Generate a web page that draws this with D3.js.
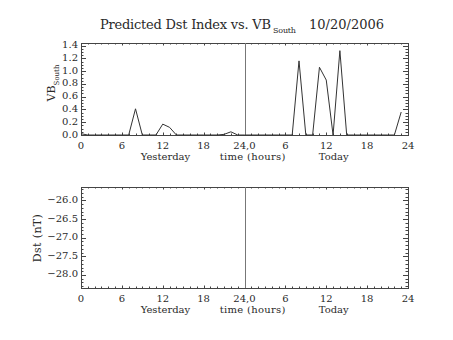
<!DOCTYPE html>
<html><head><meta charset="utf-8">
<script src="https://cdn.jsdelivr.net/npm/d3@7"></script>
<style>
body{margin:0;background:#fff;}
text{font-family:"DejaVu Serif",serif;fill:#2a2a2a;}
</style></head>
<body><svg id="c" width="453" height="340"></svg>
<script>
// ---- data ----
const hours = d3.range(0, 48);           // 0-23 yesterday, 24-47 today
const vbYesterday = [0.02,0,0,0,0,0,0,0,0.41,0,0,0,0.17,0.12,0,0,0,0,0,0,0,0.01,0.05,0];
const vbToday     = [0,0,0,0,0,0,0,0,1.16,0,0,1.06,0.86,0,1.32,0,0,0,0,0,0,0,0,0.36];
const dstValues   = [];                  // no Dst predictions available
const xTickValues = [0,6,12,18,24,30,36,42,48];
const xTickLabels = ["0","6","12","18","24,0","6","12","18","24"];
const vbTicks  = [0,0.2,0.4,0.6,0.8,1.0,1.2,1.4];
const dstTicks = [-28,-27.5,-27,-26.5,-26];
const titleMain = "Predicted Dst Index vs. VB";
const titleSub = "South";
const titleDate = "10/20/2006";

const svg = d3.select("#c");
const axisCol = "#444";
const L = 81, R = 408;
const x = d3.scaleLinear().domain([0,48]).range([L,R]);

function panel(top, bottom, yDomain, majorTicks, minorStep, fmt) {
  const y = d3.scaleLinear().domain(yDomain).range([bottom, top]);
  const g = svg.append("g");
  g.append("rect").attr("x",L).attr("y",top).attr("width",R-L).attr("height",bottom-top)
    .attr("fill","none").attr("stroke",axisCol).attr("stroke-width",1).attr("shape-rendering","crispEdges");
  // x ticks (bottom & top)
  const xMinor = d3.range(0,49,1);
  xMinor.forEach(h=>{
    const major = h%6===0;
    const len = major?2.5:1.5;
    const px = Math.round(x(h))+0.5;
    g.append("line").attr("x1",px).attr("x2",px).attr("y1",bottom).attr("y2",bottom-len).attr("stroke",axisCol);
    g.append("line").attr("x1",px).attr("x2",px).attr("y1",top).attr("y2",top+len).attr("stroke",axisCol);
  });
  // y ticks (left & right)
  const lo = Math.ceil(yDomain[0]/minorStep-1e-6), hi = Math.floor(yDomain[1]/minorStep+1e-6);
  d3.range(lo,hi+1).forEach(i=>{
    const v = i*minorStep;
    const major = majorTicks.some(t=>Math.abs(t-v)<1e-6);
    const len = major?5:2.5;
    const py = Math.round(y(v))+0.5;
    g.append("line").attr("x1",L).attr("x2",L+len).attr("y1",py).attr("y2",py).attr("stroke",axisCol);
    g.append("line").attr("x1",R).attr("x2",R-len).attr("y1",py).attr("y2",py).attr("stroke",axisCol);
  });
  majorTicks.forEach(t=>{
    g.append("text").attr("x",L-3).attr("y",y(t)+2.5).attr("text-anchor","end")
      .attr("font-size",10).text(fmt(t));
  });
  xTickValues.forEach((t,i)=>{
    g.append("text").attr("x",x(t)).attr("y",bottom+14).attr("text-anchor","middle")
      .attr("font-size",10).text(xTickLabels[i]);
  });
  g.append("text").attr("x",x(12.4)).attr("y",bottom+25).attr("text-anchor","middle").attr("font-size",10).text("Yesterday");
  g.append("text").attr("x",x(25.2)).attr("y",bottom+25).attr("text-anchor","middle").attr("font-size",10).attr("letter-spacing",0.3).text("time (hours)");
  g.append("text").attr("x",x(37.1)).attr("y",bottom+25).attr("text-anchor","middle").attr("font-size",10).text("Today");
  // midnight divider
  g.append("line").attr("x1",Math.round(x(24))+0.5).attr("x2",Math.round(x(24))+0.5)
    .attr("y1",top).attr("y2",bottom).attr("stroke","#777").attr("stroke-width",1);
  return {g,y};
}

const fmt1 = d3.format(".1f");
const fmtDst = v => fmt1(v).replace("-","\u2212");

const p1 = panel(43, 135, [0,1.44], vbTicks, 0.05, fmt1);
const p2 = panel(187, 288, [-28.35,-25.64], dstTicks, 0.1, fmtDst);

// VB south line
const vb = vbYesterday.concat(vbToday);
const line1 = d3.line().x((d,i)=>x(hours[i])).y(d=>p1.y(d));
p1.g.append("path").datum(vb).attr("d",line1).attr("fill","none").attr("stroke","#333").attr("stroke-width",1);

// Dst line (empty)
if (dstValues.length) {
  const line2 = d3.line().x((d,i)=>x(hours[i])).y(d=>p2.y(d));
  p2.g.append("path").datum(dstValues).attr("d",line2).attr("fill","none").attr("stroke","#333");
}

// y axis titles
const yl1 = svg.append("text").attr("transform","translate(55,83) rotate(-90)").attr("text-anchor","middle").attr("font-size",11);
yl1.append("tspan").text("VB");
yl1.append("tspan").attr("font-size",7).attr("dy",4).text("South");
svg.append("text").attr("transform","translate(41,238) rotate(-90)").attr("text-anchor","middle").attr("font-size",11).attr("letter-spacing",0.4).text("Dst (nT)");

// title
svg.append("text").attr("x",100).attr("y",29).attr("font-size",13)
  .attr("textLength",171).attr("lengthAdjust","spacing").text(titleMain);
svg.append("text").attr("x",273).attr("y",33).attr("font-size",8)
  .attr("textLength",23).attr("lengthAdjust","spacing").text(titleSub);
svg.append("text").attr("x",309).attr("y",29).attr("font-size",13)
  .attr("textLength",75).attr("lengthAdjust","spacing").text(titleDate);
</script></body></html>
